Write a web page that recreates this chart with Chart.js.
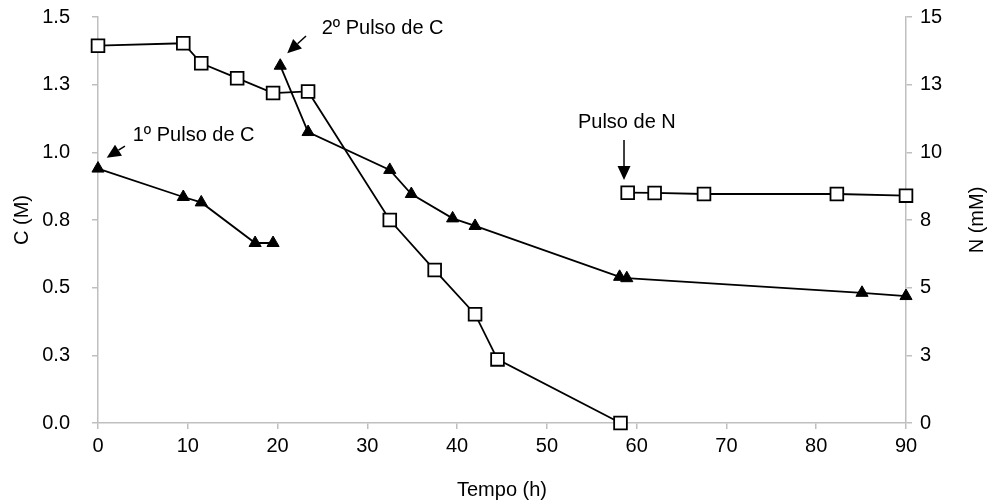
<!DOCTYPE html>
<html>
<head>
<meta charset="utf-8">
<script src="https://cdn.jsdelivr.net/npm/chart.js@4/dist/chart.umd.min.js"></script>
<style>
  html, body { margin: 0; padding: 0; background: #fff; }
  #wrap { width: 993px; height: 504px; position: relative; }
</style>
</head>
<body>
<div id="wrap"><canvas id="c"></canvas></div>
<script>
// ---- Data ----
const timeC1 = [0, 9.5, 11.5, 17.5, 19.5];
const carbonC1 = [0.94, 0.835, 0.815, 0.665, 0.665];
const timeC2 = [20.3, 23.4, 32.5, 34.9, 39.5, 42.0, 58.1, 58.9, 85.1, 90];
const carbonC2 = [1.32, 1.075, 0.935, 0.846, 0.756, 0.728, 0.54, 0.535, 0.481, 0.469];
const timeN1 = [0, 9.5, 11.5, 15.5, 19.5, 23.4, 32.5, 37.5, 42.0, 44.5, 58.2];
const nitrogenN1 = [13.94, 14.03, 13.29, 12.74, 12.19, 12.25, 7.5, 5.65, 4.02, 2.35, 0];
const timeN2 = [59.0, 62.0, 67.5, 82.3, 90];
const nitrogenN2 = [8.51, 8.50, 8.46, 8.46, 8.40];

const xTickLabels = ['0','10','20','30','40','50','60','70','80','90'];
const cTickLabels = ['0.0','0.3','0.5','0.8','1.0','1.3','1.5'];
const nTickLabels = ['0','3','5','8','10','13','15'];

const annotationTexts = ['1º Pulso de C', '2º Pulso de C', 'Pulso de N'];
// ---- Styling / layout ----
const FONT = '"Liberation Sans", Arial, Helvetica, sans-serif';
const FS = 20;
const AXIS = '#bfbfbf';

function pts(xs, ys) { return xs.map((v, i) => ({ x: v, y: ys[i] })); }

const triStyle = {
  pointStyle: 'triangle', pointRadius: 7, pointHoverRadius: 7,
  pointBackgroundColor: '#000', pointBorderColor: '#000', pointBorderWidth: 1,
  borderColor: '#000', borderWidth: 1.8, showLine: true, clip: false, yAxisID: 'yC'
};
const sqStyle = {
  pointStyle: 'rect', pointRadius: 9, pointHoverRadius: 9,
  pointBackgroundColor: '#fff', pointBorderColor: '#000', pointBorderWidth: 1.8,
  borderColor: '#000', borderWidth: 1.8, showLine: true, clip: false, yAxisID: 'yN'
};

// annotation placement (data coords on x / C axis)
const notes = [
  { text: annotationTexts[0], at: [3.87, 1.064], tail: [3.0, 1.023], tip: [0.97, 0.980] },
  { text: annotationTexts[1], at: [24.92, 1.458], tail: [23.17, 1.430], tip: [21.08, 1.366] },
  { text: annotationTexts[2], at: [53.46, 1.109], tail: [58.59, 1.046], tip: [58.59, 0.898] }
];

function drawArrow(ctx, x1, y1, x2, y2) {
  const ang = Math.atan2(y2 - y1, x2 - x1);
  const L = 14, W = 6.5;
  const bx = x2 - L * Math.cos(ang), by = y2 - L * Math.sin(ang);
  ctx.beginPath();
  ctx.lineWidth = 1.5;
  ctx.moveTo(x1, y1); ctx.lineTo(bx, by); ctx.stroke();
  ctx.beginPath();
  ctx.moveTo(x2, y2);
  ctx.lineTo(bx + W * Math.sin(ang), by - W * Math.cos(ang));
  ctx.lineTo(bx - W * Math.sin(ang), by + W * Math.cos(ang));
  ctx.closePath(); ctx.fill();
}

const notePlugin = {
  id: 'notes',
  afterDraw(chart) {
    const { ctx, scales } = chart;
    const x = scales.x, y = scales.yC;
    ctx.save();
    ctx.fillStyle = '#000'; ctx.strokeStyle = '#000';
    ctx.font = FS + 'px ' + FONT;
    ctx.textBaseline = 'middle'; ctx.textAlign = 'left';
    for (const n of notes) {
      ctx.fillText(n.text, x.getPixelForValue(n.at[0]), y.getPixelForValue(n.at[1]));
      drawArrow(ctx, x.getPixelForValue(n.tail[0]), y.getPixelForValue(n.tail[1]),
                     x.getPixelForValue(n.tip[0]), y.getPixelForValue(n.tip[1]));
    }
    // right axis title, rotated like the left one
    const ca = chart.chartArea;
    ctx.translate(977, (ca.top + ca.bottom) / 2);
    ctx.rotate(-Math.PI / 2);
    ctx.textAlign = 'center';
    ctx.fillText('N (mM)', 0, 0);
    ctx.restore();
  }
};

function fitV(w) {
  return s => { s.width = w; s.paddingTop = 0; s.paddingBottom = 0; };
}

new Chart(document.getElementById('c'), {
  type: 'scatter',
  data: {
    datasets: [
      Object.assign({ label: 'N1', data: pts(timeN1, nitrogenN1) }, sqStyle),
      Object.assign({ label: 'N2', data: pts(timeN2, nitrogenN2) }, sqStyle),
      Object.assign({ label: 'C1', data: pts(timeC1, carbonC1) }, triStyle),
      Object.assign({ label: 'C2', data: pts(timeC2, carbonC2) }, triStyle)
    ]
  },
  options: {
    responsive: true, maintainAspectRatio: false, animation: false,
    layout: { padding: { top: 17, left: 0, right: 0, bottom: 0 } },
    plugins: { legend: { display: false }, tooltip: { enabled: false } },
    scales: {
      x: {
        type: 'linear', min: 0, max: 90,
        afterFit: s => { s.height = 81; s.paddingLeft = 0; s.paddingRight = 0; },
        ticks: { stepSize: 10, color: '#000', font: { family: FONT, size: FS }, padding: 5,
                 callback: (v, i) => xTickLabels[i] },
        grid: { drawOnChartArea: false, drawTicks: true, tickLength: 6, color: AXIS, lineWidth: 1.5 },
        border: { display: true, color: AXIS, width: 1.5 },
        title: { display: true, text: 'Tempo (h)', color: '#000', font: { family: FONT, size: FS }, padding: { top: 0, bottom: 2 } }
      },
      yC: {
        type: 'linear', position: 'left', min: 0, max: 1.5,
        afterFit: fitV(98),
        ticks: { stepSize: 0.25, color: '#000', font: { family: FONT, size: FS }, padding: 22,
                 callback: (v, i) => cTickLabels[i] },
        grid: { drawOnChartArea: false, drawTicks: true, tickLength: 6, color: AXIS, lineWidth: 1.5 },
        border: { display: true, color: AXIS, width: 1.5 },
        title: { display: true, text: 'C (M)', color: '#000', font: { family: FONT, size: FS }, padding: { top: 10, bottom: 0 } }
      },
      yN: {
        type: 'linear', position: 'right', min: 0, max: 15,
        afterFit: fitV(87),
        ticks: { stepSize: 2.5, color: '#000', font: { family: FONT, size: FS }, padding: 8,
                 callback: (v, i) => nTickLabels[i] },
        grid: { drawOnChartArea: false, drawTicks: true, tickLength: 6, color: AXIS, lineWidth: 1.5 },
        border: { display: true, color: AXIS, width: 1.5 },
        title: { display: false }
      }
    }
  },
  plugins: [notePlugin]
});
</script>
</body>
</html>
